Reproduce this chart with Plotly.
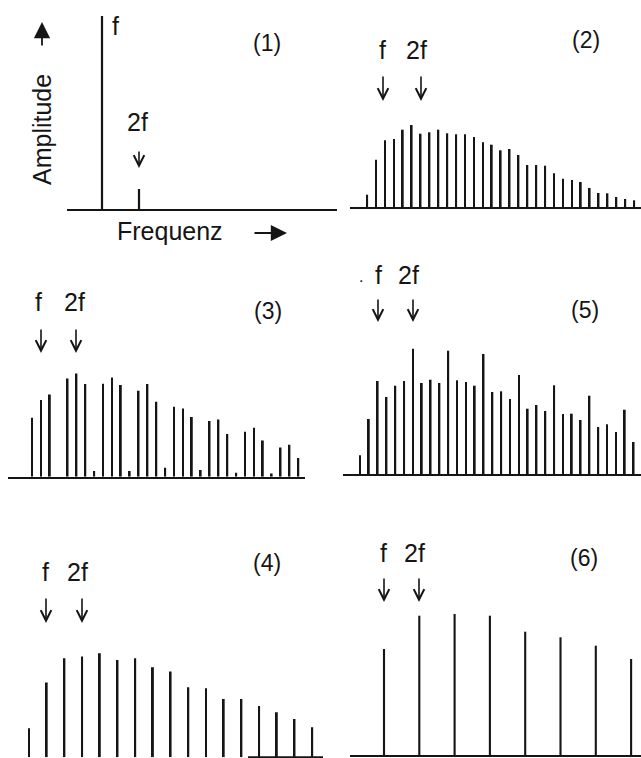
import plotly.graph_objects as go

W, H = 641, 758

# ---------------- data (frequency in units of f, amplitude in arbitrary units) -------------
p1_freq = [1, 2]
p1_amp = [193, 20]

p2_freq = [k / 4 for k in range(2, 34)]
p2_amp = [12.3, 47.3, 66.7, 68, 77.3, 82, 73.3, 74.7, 77.3, 73.7, 72.7, 72.7, 70, 64.7,
          62.3, 56.7, 58, 52, 42, 42, 41.3, 33.7, 28.3, 27, 25, 19, 14, 13.7, 10, 8, 6.7, 5.7]

p3_freq = [k / 4 for k in range(3, 34)]
p3_amp = [59, 76.7, 82.3, 0, 98.3, 103.3, 92.7, 5.7, 93, 99.3, 91.7, 5.7, 86, 92.7, 75, 9,
          70, 68.3, 59.7, 6.7, 55.7, 57.3, 42.7, 4, 45, 49, 36.3, 3.3, 29.3, 32, 18.7]

p5_freq = [k / 4 for k in range(2, 35)]
p5_amp = [18.7, 55, 93, 77, 88.3, 93, 125.3, 91, 94.3, 91, 123.3, 93.7, 92, 88.3, 120, 82,
          82.7, 75, 99, 65.3, 69, 63, 88.7, 60, 60.3, 54, 78.3, 47, 49.7, 42, 64.3, 32, 35.3]

p4_freq = [k / 2 for k in range(1, 18)]
p4_amp = [29, 74.7, 99, 100.7, 104, 97.3, 99, 90, 85.7, 70, 69, 58.3, 58.3, 51.3, 45, 38.3, 30]

p6_freq = [1, 2, 3, 4, 5, 6, 7, 8]
p6_amp = [106, 139.3, 141, 139.3, 123.3, 117.7, 109.3, 96]

panel_labels = ["(1)", "(2)", "(3)", "(5)", "(4)", "(6)"]

INK = "#151515"
FONT = "Liberation Sans, Arial, DejaVu Sans, sans-serif"


def px(x):
    return x / W


def py(y):
    return 1 - y / H


# panel geometry: left px, right px, px of f, px per f, baseline py, top py, show axis line
panels = [
    dict(freq=p1_freq, amp=p1_amp, x0=67, x1=337, fpx=102, s=37.0, base=209, top=10, line=True, w=0.06),
    dict(freq=p2_freq, amp=p2_amp, x0=350, x1=641, fpx=385, s=35.6, base=207, top=100, line=True, w=0.05),
    dict(freq=p3_freq, amp=p3_amp, x0=8, x1=305, fpx=41, s=35.5, base=476.7, top=360, line=True, w=0.05),
    dict(freq=p5_freq, amp=p5_amp, x0=343, x1=641, fpx=377.7, s=35.3, base=474, top=330, line=True, w=0.05),
    dict(freq=p4_freq, amp=p4_amp, x0=8, x1=323, fpx=46.7, s=35.4, base=757.3, top=600, line=False, w=0.055),
    dict(freq=p6_freq, amp=p6_amp, x0=350, x1=641, fpx=384, s=35.3, base=755, top=590, line=True, w=0.06),
]

fig = go.Figure()
layout = dict(
    width=W, height=H, margin=dict(l=0, r=0, t=0, b=0),
    paper_bgcolor="white", plot_bgcolor="rgba(0,0,0,0)",
    showlegend=False,
)

for i, p in enumerate(panels, start=1):
    xa = "x" if i == 1 else f"x{i}"
    ya = "y" if i == 1 else f"y{i}"
    fig.add_trace(go.Bar(
        x=p["freq"], y=p["amp"], width=p["w"],
        marker=dict(color=INK, line=dict(width=0)),
        xaxis=xa, yaxis=ya, hoverinfo="skip",
    ))
    r0 = 1 - (p["fpx"] - p["x0"]) / p["s"]
    r1 = 1 + (p["x1"] - p["fpx"]) / p["s"]
    key_x = "xaxis" if i == 1 else f"xaxis{i}"
    key_y = "yaxis" if i == 1 else f"yaxis{i}"
    layout[key_x] = dict(
        domain=[px(p["x0"]), px(p["x1"])], range=[r0, r1], anchor=ya,
        showline=p["line"], linewidth=2, linecolor=INK, showgrid=False,
        zeroline=False, showticklabels=False, ticks="", fixedrange=True,
    )
    layout[key_y] = dict(
        domain=[py(p["base"]), py(p["top"])], range=[0, p["base"] - p["top"]], anchor=xa,
        showline=False, showgrid=False, zeroline=False, showticklabels=False, ticks="",
        fixedrange=True,
    )

annotations = []


def text(t, x, y, size=25, angle=0):
    annotations.append(dict(
        text=t, x=px(x), y=py(y), xref="paper", yref="paper", showarrow=False,
        xanchor="center", yanchor="middle", textangle=angle,
        font=dict(family=FONT, size=size, color=INK),
    ))


def arrow(x, y, ax, ay, head=5, width=1.6, size=1.3):
    annotations.append(dict(
        text="", x=px(x), y=py(y), xref="paper", yref="paper", showarrow=True,
        ax=ax, ay=ay, arrowhead=head, arrowwidth=width, arrowsize=size,
        arrowcolor=INK, standoff=0, startstandoff=0,
    ))


# Panel 1 texts
text("f", 115, 26)
text("2f", 137, 122)
arrow(139, 168, 0, -18)
text("Amplitude", 42, 130, angle=-90)
arrow(42, 22, 0, 25, head=2, width=1.8, size=1.8)
text("Frequenz", 170, 231)
arrow(287, 233, -34, 0, head=2, width=1.8, size=1.8)

# Panel 2
text("f", 382, 50)
text("2f", 416, 50)
arrow(383, 101, 0, -26)
arrow(421, 101, 0, -26)

# Panel 3
text("f", 38, 302)
text("2f", 74, 302)
arrow(41, 353, 0, -25)
arrow(76, 353, 0, -25)

# Panel 5
text(".", 361, 276, size=16)
text("f", 378, 275)
text("2f", 408, 275)
arrow(378, 322, 0, -24)
arrow(413, 322, 0, -24)

# Panel 4
text("f", 45, 572)
text("2f", 77, 572)
arrow(46, 623, 0, -26)
arrow(82, 623, 0, -26)

# Panel 6
text("f", 383, 553)
text("2f", 415, 553)
arrow(384, 602, 0, -25)
arrow(419, 602, 0, -25)

# panel numbers
for lab, (x, y) in zip(panel_labels, [(267, 43), (586, 40), (268, 311), (585, 310), (267, 563), (584, 558)]):
    text(lab, x, y, size=23)

layout["annotations"] = annotations
layout["shapes"] = [dict(
    type="line", xref="paper", yref="paper", x0=px(248), x1=px(323), y0=py(757.3), y1=py(757.3),
    line=dict(color=INK, width=2),
)]

fig.update_layout(**layout)
fig.write_html("out.html")
